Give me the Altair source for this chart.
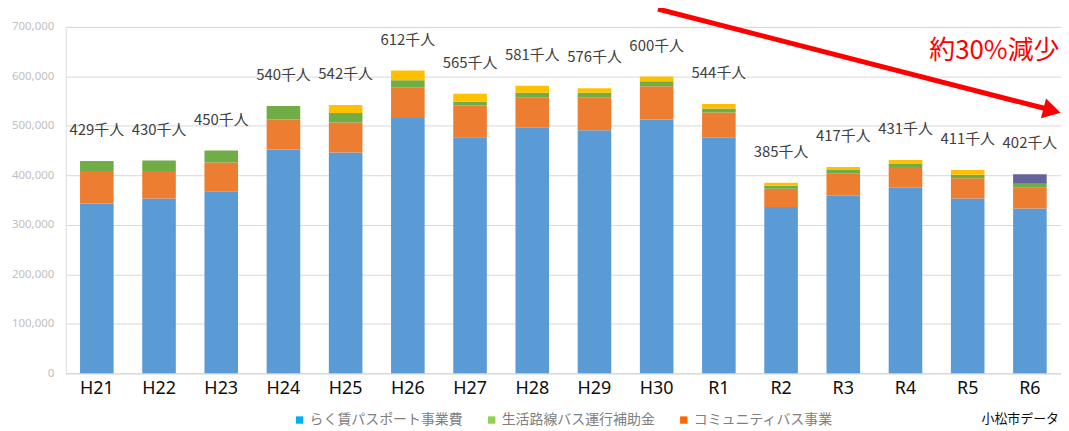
import altair as alt
import pandas as pd

# ---- data (thousand riders) ----
years = ["H21", "H22", "H23", "H24", "H25", "H26", "H27", "H28",
         "H29", "H30", "R1", "R2", "R3", "R4", "R5", "R6"]
rakuchin = [343, 353, 367, 452, 446, 516, 477, 496, 491, 513, 476, 336, 359, 375, 353, 333]
community = [66, 56, 59, 61, 61, 62, 64, 62, 67, 67, 51, 37, 45, 42, 41, 42]
seikatsu = [20, 21, 24, 27, 19, 14, 8, 9, 9, 10, 8, 6, 7, 6, 7, 8]
other_a = [0, 0, 0, 0, 16, 20, 16, 14, 9, 10, 9, 6, 6, 8, 10, 0]
other_b = [0, 0, 0, 0, 0, 0, 0, 0, 0, 0, 0, 0, 0, 0, 0, 19]
totals = [429, 430, 450, 540, 542, 612, 565, 581, 576, 600, 544, 385, 417, 431, 411, 402]
y_ticks = [0, 100000, 200000, 300000, 400000, 500000, 600000, 700000]

series_names = ["らく賃パスポート事業費", "コミュニティバス事業", "生活路線バス運行補助金", "その他A", "その他B"]
series_values = [rakuchin, community, seikatsu, other_a, other_b]
series_colors = ["#5B9BD5", "#ED7D31", "#70AD47", "#FFC000", "#64649A"]

legend_names = ["らく賃パスポート事業費", "生活路線バス運行補助金", "コミュニティバス事業"]
legend_colors = ["#00B0F0", "#92D050", "#FF6600"]

rows = []
for order, (name, vals) in enumerate(zip(series_names, series_values)):
    for y, v in zip(years, vals):
        rows.append({"year": y, "series": name, "value": v * 1000, "order": order})
df = pd.DataFrame(rows)

df_tot = pd.DataFrame({"year": years, "total": [t * 1000 for t in totals],
                       "label": [f"{t}千人" for t in totals]})

df_leg = pd.DataFrame({"year": ["H21"] * 3, "name": legend_names, "v": [0, 0, 0]})

one = pd.DataFrame({"a": [0]})

x_axis = alt.Axis(labelAngle=0, labelFont="Noto Sans", labelFontSize=18,
                  labelColor="#0D0D0D", ticks=False, labelPadding=6,
                  domainColor="#D9D9D9", grid=False, title=None)
y_axis = alt.Axis(values=y_ticks, format=",.0f", ticks=False, domain=False, labelPadding=12,
                  labelFont="Noto Sans", labelFontSize=11.5, labelColor="#BFBFBF",
                  gridColor="#D9D9D9", gridWidth=1, title=None)
x_scale = alt.Scale(paddingInner=0.46)
y_scale = alt.Scale(domain=[0, 700000])


def xe(field):
    return alt.X(field, sort=years, title=None, scale=x_scale, axis=x_axis)


def ye(field, **kw):
    return alt.Y(field, title=None, scale=y_scale, axis=y_axis, **kw)


bars = alt.Chart(df).mark_bar().encode(
    x=xe("year:N"),
    y=ye("value:Q", stack="zero"),
    color=alt.Color("series:N", scale=alt.Scale(domain=series_names, range=series_colors),
                    legend=None),
    order=alt.Order("order:Q", sort="ascending"),
)

labels = alt.Chart(df_tot).mark_text(
    font="Noto Sans CJK JP", fontSize=15, color="#404040", dy=-31, baseline="middle"
).encode(
    x=xe("year:N"),
    y=ye("total:Q"),
    text="label:N",
)

legend_layer = alt.Chart(df_leg).mark_square(opacity=0).encode(
    x=xe("year:N"),
    y=ye("v:Q"),
    color=alt.Color("name:N",
                    scale=alt.Scale(domain=legend_names, range=legend_colors),
                    legend=alt.Legend(title=None, orient="none", direction="horizontal",
                                      legendX=228, legendY=388,
                                      symbolType="square", symbolSize=55, symbolOpacity=1,
                                      symbolStrokeWidth=0, labelFont="Noto Sans CJK JP",
                                      labelFontSize=14, labelColor="#808080",
                                      columnPadding=22, labelOffset=3, labelLimit=300)),
)

arrow_line = alt.Chart(one).mark_rule(color="#FF0000", strokeWidth=5).encode(
    x=alt.value(595), y=alt.value(-18), x2=alt.value(984), y2=alt.value(82)
)
arrow_head = alt.Chart(one).mark_point(
    shape="triangle-right", filled=True, color="#FF0000", opacity=1, size=420, angle=14.5
).encode(x=alt.value(991), y=alt.value(84))

note = alt.Chart(one).mark_text(
    text="約30%減少", font="Noto Sans CJK JP", fontSize=26, color="#FF0000",
    align="center", baseline="middle"
).encode(x=alt.value(933), y=alt.value(24))

source = alt.Chart(one).mark_text(
    text="小松市データ", font="Noto Sans CJK JP", fontSize=13, color="#0D0D0D",
    align="right", baseline="middle"
).encode(x=alt.value(998), y=alt.value(394))

chart = alt.layer(bars, labels, legend_layer, arrow_line, arrow_head, note, source).resolve_scale(
    color="independent"
).properties(
    width=1000, height=348,
    padding={"left": 58, "top": 18, "right": 0, "bottom": 56},
    autosize=alt.AutoSizeParams(type="none"),
).configure_view(stroke=None).configure(background="white")

chart.save("out.html", embed_options={"renderer": "svg", "actions": False})
